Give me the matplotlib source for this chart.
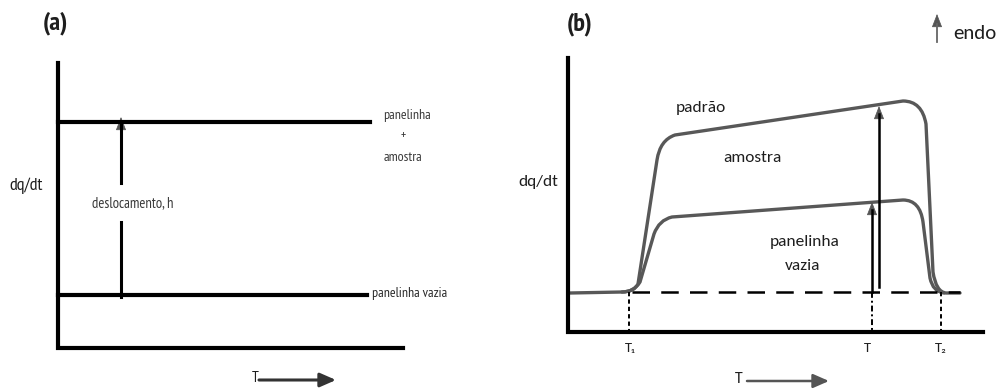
import matplotlib.pyplot as plt
from matplotlib.path import Path
from matplotlib.patches import PathPatch, FancyArrowPatch
import numpy as np

# schematic coordinates (horizontal = T, vertical = dq/dt, y grows downwards)
# panel (a): empty pan vs pan + sample
a_axis_x = [58, 58, 403]
a_axis_y = [63, 348, 348]
a_line_top_x = [58, 370]
a_line_top_y = [122, 122]
a_line_bot_x = [58, 367]
a_line_bot_y = [295, 295]
a_shift_x = 121
a_shift_y = [297, 222, 183, 117]

# panel (b): DSC curves, vertices + quadratic-bezier control points
b_axis_x = [568, 568, 983]
b_axis_y = [58, 332, 332]
b_base_y = 292
b_T1, b_T, b_T2 = 629, 872, 941
b_base_x = [632, 960]

padrao_x = [570, 622, 634, 638, 657, 660, 675, 903, 922, 926, 933, 936, 946, 960]
padrao_y = [293, 292, 292, 284, 160, 140, 135, 101, 101, 124, 272, 292, 293, 293]
amostra_x = [622, 634, 640, 654, 659, 672, 903, 920, 923, 930, 933, 944]
amostra_y = [292, 292, 282, 234, 220, 217, 200, 200, 222, 278, 292, 293]
curve_codes_p = [Path.MOVETO, Path.LINETO, Path.CURVE3, Path.CURVE3, Path.LINETO,
                 Path.CURVE3, Path.CURVE3, Path.LINETO, Path.CURVE3, Path.CURVE3,
                 Path.LINETO, Path.CURVE3, Path.CURVE3, Path.LINETO]
curve_codes_a = [Path.MOVETO, Path.CURVE3, Path.CURVE3, Path.LINETO,
                 Path.CURVE3, Path.CURVE3, Path.LINETO, Path.CURVE3, Path.CURVE3,
                 Path.LINETO, Path.CURVE3, Path.CURVE3]

arrow_long_x, arrow_long_y = 879, [287, 106]
arrow_short_x, arrow_short_y = 872, [292, 202]

narrow = ['PT Sans Narrow', 'DejaVu Sans']
body = ['Carlito', 'DejaVu Sans']
dark = '#1e1e1e'
curve_col = '#585858'
head_col = '#555555'

fig = plt.figure(figsize=(10, 3.89), dpi=100)
ax = fig.add_axes([0, 0, 1, 1])
ax.set_xlim(0, 1000)
ax.set_ylim(389, 0)
ax.axis('off')


def head(x, y_tip, length=12, col=head_col):
    # filled triangular arrow head pointing up, tip at y_tip
    ax.add_patch(FancyArrowPatch((x, y_tip + length), (x, y_tip),
                                 arrowstyle='-|>,head_length=0.85,head_width=0.33',
                                 mutation_scale=10, color=col, lw=0.5,
                                 shrinkA=0, shrinkB=0))


# ---- panel (a)
ax.plot(a_axis_x, a_axis_y, color='black', lw=3, solid_joinstyle='miter')
ax.plot(a_line_top_x, a_line_top_y, color='black', lw=3)
ax.plot(a_line_bot_x, a_line_bot_y, color='black', lw=3)
ax.plot([a_shift_x, a_shift_x], a_shift_y[:2], color='black', lw=2.2)
ax.plot([a_shift_x, a_shift_x], [a_shift_y[2], a_shift_y[3] + 8], color='black', lw=2.2)
head(a_shift_x, a_shift_y[3])
ax.text(92, 203, "deslocamento, h", family=narrow, fontsize=10.5,
        color='#3a3a3a', va='center', ha='left')
ax.text(9, 186, "dq/dt", family=narrow, fontsize=13, color=dark, va='center')
ax.text(43, 23, "(a)", family=narrow, fontsize=19, weight='bold', color=dark, va='center')
ax.text(407, 115, "panelinha", family=narrow, fontsize=10, color='#3a3a3a',
        ha='center', va='center')
ax.text(403, 135, "+", family=narrow, fontsize=9, color='#3a3a3a', ha='center', va='center')
ax.text(403, 157, "amostra", family=narrow, fontsize=10, color='#3a3a3a',
        ha='center', va='center')
ax.text(372, 294, "panelinha vazia", family=narrow, fontsize=10, color='#2a2a2a',
        ha='left', va='center')
ax.text(255, 378, "T", family=narrow, fontsize=11, color=dark, ha='center', va='center')
ax.add_patch(FancyArrowPatch((259, 380), (336, 380),
                             arrowstyle='-|>,head_length=0.8,head_width=0.35',
                             mutation_scale=12, color='#333333', lw=2.2,
                             shrinkA=0, shrinkB=0))

# ---- panel (b)
ax.plot(b_axis_x, b_axis_y, color='black', lw=3, solid_joinstyle='miter')
ax.plot(b_base_x, [b_base_y, b_base_y], color='black', lw=1.8, dashes=(7, 4.5))
for xv in (b_T1, b_T2):
    ax.plot([xv, xv], [b_base_y, b_axis_y[1]], color='black', lw=1.4, dashes=(2.2, 1.6))
ax.plot([b_T, b_T], [b_base_y, b_axis_y[1]], color='black', lw=1.4, dashes=(3, 1.5, 1, 1.5))

ax.add_patch(PathPatch(Path(np.column_stack([padrao_x, padrao_y]), curve_codes_p),
                       fill=False, edgecolor=curve_col, lw=2.4, capstyle='round'))
ax.add_patch(PathPatch(Path(np.column_stack([amostra_x, amostra_y]), curve_codes_a),
                       fill=False, edgecolor=curve_col, lw=2.4, capstyle='round'))

for xv, ys in ((arrow_long_x, arrow_long_y), (arrow_short_x, arrow_short_y)):
    ax.plot([xv, xv], [ys[0], ys[1] + 8], color='black', lw=1.8)
    head(xv, ys[1])

ax.text(538, 182, "dq/dt", family=body, fontsize=12.5, color=dark, ha='center', va='center')
ax.text(567, 24, "(b)", family=narrow, fontsize=19, weight='bold', color=dark, va='center')
ax.text(701, 108, "padrão", family=body, fontsize=12.5, color=dark, ha='center', va='center')
ax.text(752, 158, "amostra", family=body, fontsize=12.5, color=dark, ha='center', va='center')
ax.text(805, 242, "panelinha", family=body, fontsize=12.5, color=dark, ha='center', va='center')
ax.text(803, 266, "vazia", family=body, fontsize=12.5, color=dark, ha='center', va='center')
ax.text(b_T1 + 1, 348, "T\u2081", family=body, fontsize=10.5, color=dark, ha='center', va='center')
ax.text(b_T - 5, 348, "T", family=body, fontsize=10.5, color=dark, ha='center', va='center')
ax.text(b_T2, 348, "T\u2082", family=body, fontsize=10.5, color=dark, ha='center', va='center')
ax.text(739, 379, "T", family=body, fontsize=11.5, color=dark, ha='center', va='center')
ax.add_patch(FancyArrowPatch((747, 381), (829, 381),
                             arrowstyle='-|>,head_length=0.8,head_width=0.35',
                             mutation_scale=12, color='#555555', lw=1.8,
                             shrinkA=0, shrinkB=0))
ax.plot([937, 937], [42, 24], color='#666666', lw=1.3)
head(937, 14)
ax.text(953, 33, "endo", family=body, fontsize=15, color=dark, ha='left', va='center')

fig.savefig("out.png", dpi=100)
